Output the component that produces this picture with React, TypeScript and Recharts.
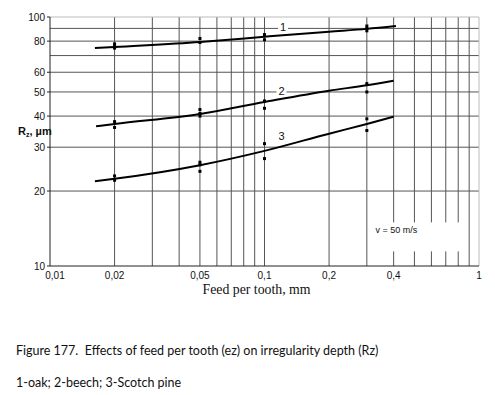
import {
  ComposedChart,
  Line,
  Scatter,
  XAxis,
  YAxis,
  ReferenceDot,
  ReferenceLine,
} from 'recharts'

// x ticks / grid (feed per tooth, mm)
const xTicks = [0.01, 0.02, 0.05, 0.1, 0.2, 0.4, 1]
const xGrid = [0.02, 0.03, 0.04, 0.05, 0.06, 0.07, 0.08, 0.09, 0.1, 0.2, 0.3, 0.4, 0.5, 0.6, 0.7, 0.8, 0.9]
// y ticks / grid (Rz, µm)
const yTicks = [10, 20, 30, 40, 50, 60, 80, 100]
const yGrid = [20, 30, 40, 50, 60, 70, 80, 90]

// fitted curves
const oakCurve = [
  { x: 0.0162, y: 75 },
  { x: 0.02, y: 75.8 },
  { x: 0.05, y: 79.4 },
  { x: 0.1, y: 83.3 },
  { x: 0.2, y: 87.3 },
  { x: 0.3, y: 89.6 },
  { x: 0.41, y: 92 },
]
const beechCurve = [
  { x: 0.0164, y: 36.4 },
  { x: 0.02, y: 37.2 },
  { x: 0.05, y: 40.8 },
  { x: 0.1, y: 45.6 },
  { x: 0.2, y: 50.6 },
  { x: 0.3, y: 53.2 },
  { x: 0.4, y: 55.5 },
]
const pineCurve = [
  { x: 0.0162, y: 21.9 },
  { x: 0.02, y: 22.4 },
  { x: 0.05, y: 25.4 },
  { x: 0.1, y: 29.0 },
  { x: 0.2, y: 34.0 },
  { x: 0.3, y: 37.2 },
  { x: 0.4, y: 39.8 },
]

// measured points
const oakPoints = [
  { x: 0.02, y: 78 }, { x: 0.02, y: 76.5 }, { x: 0.02, y: 75 },
  { x: 0.05, y: 82 }, { x: 0.05, y: 79 },
  { x: 0.1, y: 85 }, { x: 0.1, y: 81 },
  { x: 0.3, y: 92 }, { x: 0.3, y: 90 }, { x: 0.3, y: 88 },
]
const beechPoints = [
  { x: 0.02, y: 38 }, { x: 0.02, y: 36 },
  { x: 0.05, y: 42.5 }, { x: 0.05, y: 41 }, { x: 0.05, y: 40 },
  { x: 0.1, y: 46 }, { x: 0.1, y: 43 },
  { x: 0.3, y: 54 }, { x: 0.3, y: 50 },
]
const pinePoints = [
  { x: 0.02, y: 23 }, { x: 0.02, y: 22.1 },
  { x: 0.05, y: 26.1 }, { x: 0.05, y: 25.5 }, { x: 0.05, y: 24 },
  { x: 0.1, y: 31 }, { x: 0.1, y: 27 },
  { x: 0.3, y: 39 }, { x: 0.3, y: 35 },
]

const curveLabels = [
  { x: 0.122, y: 91.4, text: '1' },
  { x: 0.12, y: 50.6, text: '2' },
  { x: 0.12, y: 33.3, text: '3' },
]

const fmt = (v: number) => String(v).replace('.', ',')
const sans = 'Liberation Sans, Arial, sans-serif'
const tickStyle = { fontSize: 10, fill: '#111', fontFamily: sans }

const square = (p: any) => <rect x={p.cx - 1.5} y={p.cy - 1.5} width={3} height={3} fill="#000" />

const XTick = (p: any) => (
  <text
    x={p.x + (p.payload.value === 0.01 ? 5 : 0)}
    y={p.y + 4}
    textAnchor="middle"
    dominantBaseline="hanging"
    fontSize={10}
    fill="#111"
    fontFamily={sans}
  >
    {fmt(p.payload.value)}
  </text>
)

const captionStyle: React.CSSProperties = {
  position: 'absolute',
  left: 16,
  fontFamily: 'Lato, "Open Sans", sans-serif',
  fontSize: 12.5,
  color: '#111',
  whiteSpace: 'pre',
  lineHeight: '14px',
}

export default function App() {
  return (
    <div style={{ position: 'absolute', left: 0, top: 0, width: 495, height: 395, background: '#fff' }}>
      <ComposedChart width={495} height={300} margin={{ top: 17, right: 16, bottom: 0, left: 9 }}>
        {xGrid.map((v) => (
          <ReferenceLine key={'vx' + v} x={v} stroke="#555" strokeWidth={1} />
        ))}
        {yGrid.map((v) => (
          <ReferenceLine key={'hy' + v} y={v} stroke="#555" strokeWidth={1} />
        ))}
        <ReferenceLine x={1} stroke="#bbb" />
        <ReferenceLine y={100} stroke="#bbb" />
        <XAxis
          type="number"
          dataKey="x"
          scale="log"
          domain={[0.01, 1]}
          ticks={xTicks}
          allowDataOverflow
          tick={<XTick />}
          tickSize={0}
          axisLine={{ stroke: '#222' }}
          height={34}
          label={{
            value: 'Feed per tooth, mm',
            position: 'insideBottom',
            offset: 6,
            dx: -8,
            style: { fontSize: 13.8, fill: '#111', fontFamily: 'Liberation Serif, Times New Roman, serif' },
          }}
        />
        <YAxis
          type="number"
          dataKey="y"
          scale="log"
          domain={[10, 100]}
          ticks={yTicks}
          allowDataOverflow
          tick={tickStyle}
          tickSize={3}
          tickLine={{ stroke: '#222' }}
          tickMargin={2}
          axisLine={{ stroke: '#222' }}
          width={41}
          label={{
            content: ({ viewBox }: any) => (
              <text
                x={viewBox.x + 9}
                y={viewBox.y + 118}
                fontSize={11}
                fontWeight="bold"
                fill="#111"
                fontFamily={sans}
              >
                R<tspan fontSize={7} dy={2}>z</tspan>
                <tspan dy={-2}>, µm</tspan>
              </text>
            ),
          }}
        />
        <Line data={oakCurve} dataKey="y" type="monotone" stroke="#000" strokeWidth={2} dot={false} isAnimationActive={false} />
        <Line data={beechCurve} dataKey="y" type="monotone" stroke="#000" strokeWidth={2} dot={false} isAnimationActive={false} />
        <Line data={pineCurve} dataKey="y" type="monotone" stroke="#000" strokeWidth={2} dot={false} isAnimationActive={false} />
        <Scatter data={oakPoints} dataKey="y" shape={square} isAnimationActive={false} />
        <Scatter data={beechPoints} dataKey="y" shape={square} isAnimationActive={false} />
        <Scatter data={pinePoints} dataKey="y" shape={square} isAnimationActive={false} />
        <ReferenceDot
          x={0.412}
          y={13.9}
          r={0}
          shape={(p: any) => (
            <g>
              <rect x={p.cx - 24} y={p.cy - 8} width={90} height={29} fill="#fff" />
              <text x={p.cx} y={p.cy + 3} textAnchor="middle" fontSize={9} fill="#111" fontFamily={sans}>
                v = 50 m/s
              </text>
            </g>
          )}
        />
        {curveLabels.map((l) => (
          <ReferenceDot
            key={l.text}
            x={l.x}
            y={l.y}
            r={0}
            shape={(p: any) => (
              <g>
                <rect x={p.cx - 5} y={p.cy - 6} width={10} height={12} fill="#fff" />
                <text x={p.cx} y={p.cy + 4} textAnchor="middle" fontSize={11} fill="#111" fontFamily={sans}>
                  {l.text}
                </text>
              </g>
            )}
          />
        ))}
      </ComposedChart>
      <div style={{ ...captionStyle, top: 344 }}>
        {'Figure 177.  Effects of feed per tooth (ez) on irregularity depth (Rz)'}
      </div>
      <div style={{ ...captionStyle, top: 376 }}>1-oak; 2-beech; 3-Scotch pine</div>
    </div>
  )
}
